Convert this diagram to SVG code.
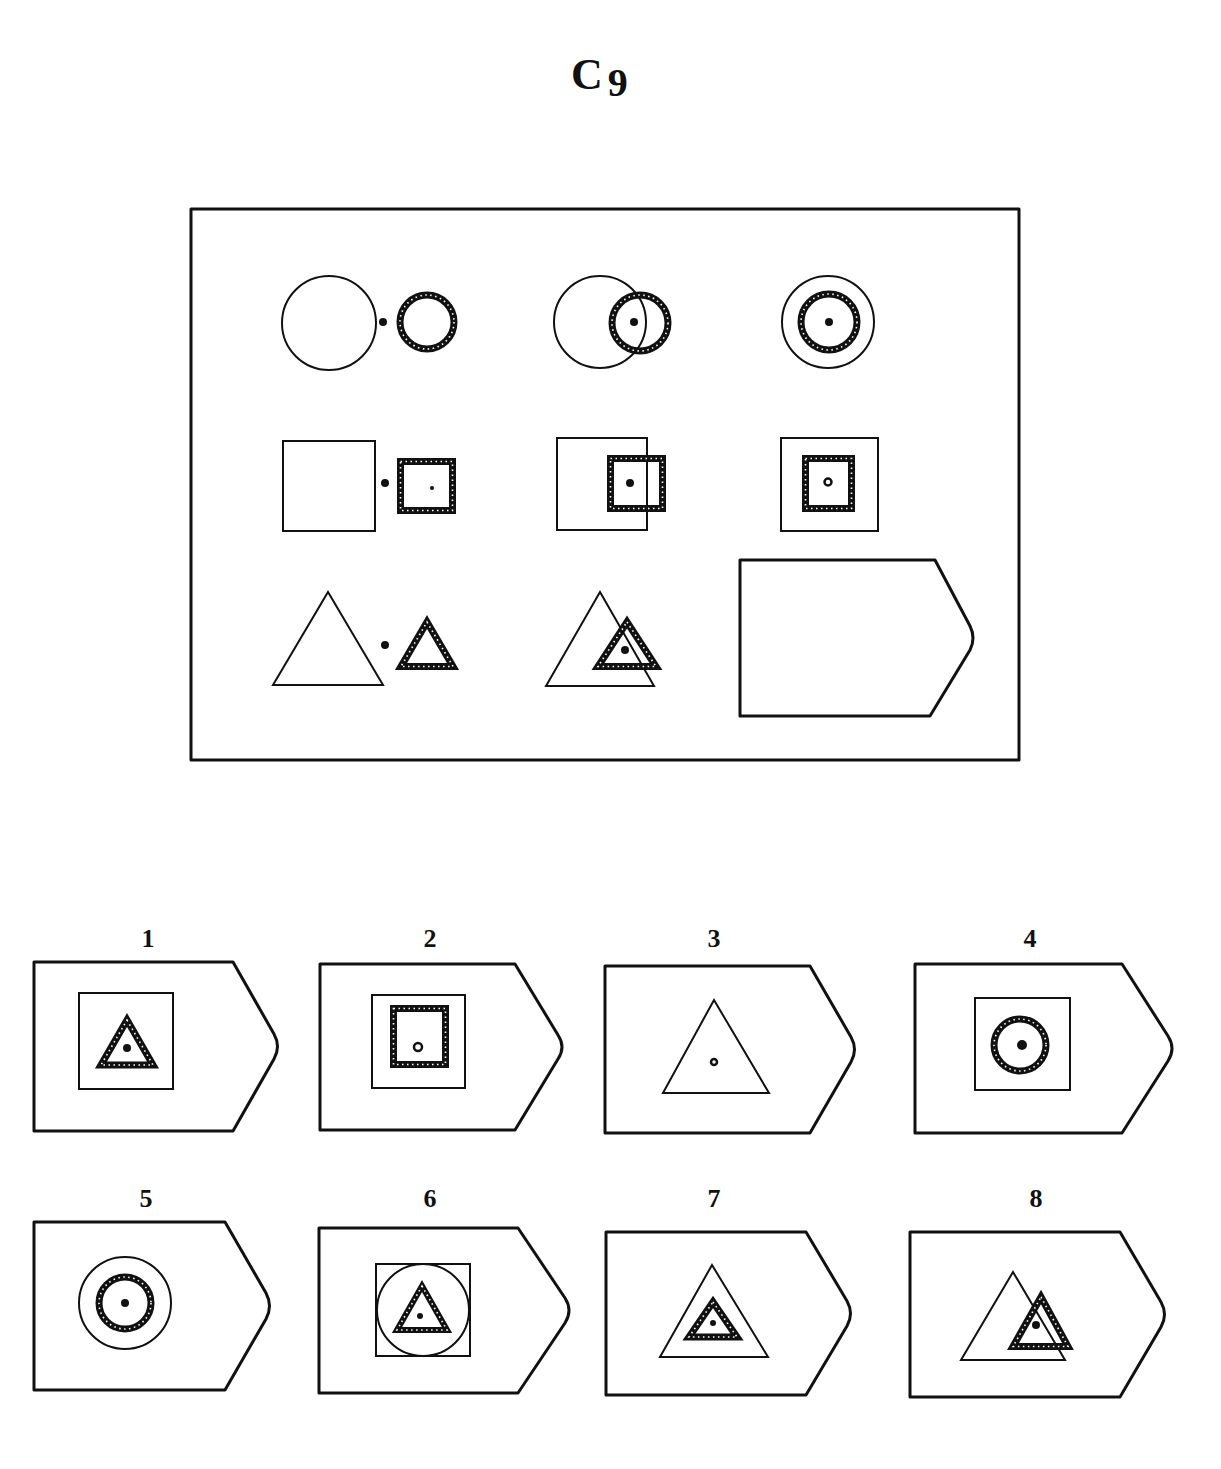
<svg xmlns="http://www.w3.org/2000/svg" width="1221" height="1469" viewBox="0 0 1221 1469">
<style>
.frame{fill:none;stroke:#111;stroke-width:3;stroke-linejoin:round}
.thin{fill:none;stroke:#111;stroke-width:2;stroke-linejoin:miter}
.thick{fill:none;stroke:#111;stroke-width:7;stroke-linejoin:miter}
.speck{fill:none;stroke:#fff;stroke-width:1.6;stroke-dasharray:1.5 3.5;stroke-linejoin:miter}
.dot{fill:#111}
.hdot{fill:none;stroke:#111;stroke-width:2.5}
.lbl{font-family:"Liberation Serif",serif;font-size:26px;font-weight:bold;fill:#111;text-anchor:middle}
.title{font-family:"Liberation Serif",serif;font-size:44px;font-weight:bold;fill:#111}
</style>
<rect width="1221" height="1469" fill="#fff"/>
<text class="title" x="571" y="89">C<tspan font-size="40" dx="5" dy="7">9</tspan></text>

<g id="matrix">
<rect class="frame" x="191" y="209" width="828" height="551"/>
<g id="cell-1-1">
<circle class="thin" cx="329" cy="323" r="47"/>
<circle class="dot" cx="383" cy="322" r="4"/>
<circle class="thick" cx="427" cy="322" r="27"/>
<circle class="speck" cx="427" cy="322" r="27"/>
</g>
<g id="cell-1-2">
<circle class="thin" cx="600" cy="322" r="46"/>
<circle class="thick" cx="640" cy="323" r="28"/>
<circle class="speck" cx="640" cy="323" r="28"/>
<circle class="dot" cx="634" cy="322" r="4"/>
</g>
<g id="cell-1-3">
<circle class="thin" cx="828" cy="322" r="46"/>
<circle class="thick" cx="829" cy="322" r="28"/>
<circle class="speck" cx="829" cy="322" r="28"/>
<circle class="dot" cx="829" cy="322" r="4"/>
</g>
<g id="cell-2-1">
<rect class="thin" x="283" y="441" width="92" height="90"/>
<circle class="dot" cx="385" cy="483" r="4"/>
<rect class="thick" x="400.5" y="461.5" width="52" height="49"/>
<rect class="speck" x="400.5" y="461.5" width="52" height="49"/>
<circle class="dot" cx="432" cy="488" r="2"/>
</g>
<g id="cell-2-2">
<rect class="thin" x="557" y="438" width="90" height="92"/>
<rect class="thick" x="610.5" y="458.5" width="52" height="50"/>
<rect class="speck" x="610.5" y="458.5" width="52" height="50"/>
<circle class="dot" cx="630" cy="483" r="4"/>
</g>
<g id="cell-2-3">
<rect class="thin" x="781" y="438" width="97" height="93"/>
<rect class="thick" x="805.5" y="458.5" width="46" height="50"/>
<rect class="speck" x="805.5" y="458.5" width="46" height="50"/>
<circle class="hdot" cx="828" cy="482" r="3.5"/>
</g>
<g id="cell-3-1">
<polygon class="thin" points="328,592 383,685 273,685"/>
<circle class="dot" cx="385" cy="645" r="4"/>
<polygon class="thick" points="427,622 453,666.5 401,666.5"/>
<polygon class="speck" points="427,622 453,666.5 401,666.5"/>
</g>
<g id="cell-3-2">
<polygon class="thin" points="600,592 654,686 546,686"/>
<polygon class="thick" points="627,622 656,666.5 598,666.5"/>
<polygon class="speck" points="627,622 656,666.5 598,666.5"/>
<circle class="dot" cx="625" cy="650" r="4"/>
</g>
<g id="cell-3-3">
<path class="frame" d="M740,560 H935 L970,626 Q976,638 970,650 L930,716 H740 Z"/>
</g>
</g>

<g id="connectors"></g>

<g id="option-1">
<text class="lbl" x="148" y="947">1</text>
<path class="frame" d="M34,962 H233 L274,1034 Q281,1046.5 274,1059 L233,1131 H34 Z"/>
<rect class="thin" x="79" y="993" width="94" height="96"/>
<polygon class="thick" points="127,1020 153,1065 101,1065"/>
<polygon class="speck" points="127,1020 153,1065 101,1065"/>
<circle class="dot" cx="127" cy="1048" r="4"/>
</g>
<g id="option-2">
<text class="lbl" x="430" y="947">2</text>
<path class="frame" d="M320,964 H515 L558,1035 Q566,1047 558,1059 L515,1130 H320 Z"/>
<rect class="thin" x="372" y="995" width="93" height="93"/>
<rect class="thick" x="393.5" y="1008.5" width="52" height="56"/>
<rect class="speck" x="393.5" y="1008.5" width="52" height="56"/>
<circle class="hdot" cx="418" cy="1047" r="4"/>
</g>
<g id="option-3">
<text class="lbl" x="714" y="947">3</text>
<path class="frame" d="M605,966 H810 L851,1037 Q858,1049.5 851,1062 L810,1133 H605 Z"/>
<polygon class="thin" points="714,1000 769,1093 663,1093"/>
<circle class="hdot" cx="714" cy="1062" r="3"/>
</g>
<g id="option-4">
<text class="lbl" x="1030" y="947">4</text>
<path class="frame" d="M915,964 H1122 L1168,1036 Q1176,1048.5 1168,1061 L1122,1133 H915 Z"/>
<rect class="thin" x="975" y="998" width="95" height="92"/>
<circle class="thick" cx="1020" cy="1045" r="26"/>
<circle class="speck" cx="1020" cy="1045" r="26"/>
<circle class="dot" cx="1022" cy="1045" r="5"/>
</g>
<g id="option-5">
<text class="lbl" x="146" y="1207">5</text>
<path class="frame" d="M34,1222 H225 L266,1293 Q273,1306 266,1319 L225,1390 H34 Z"/>
<circle class="thin" cx="125" cy="1303" r="46"/>
<circle class="thick" cx="125" cy="1303" r="26"/>
<circle class="speck" cx="125" cy="1303" r="26"/>
<circle class="dot" cx="125" cy="1303" r="4"/>
</g>
<g id="option-6">
<text class="lbl" x="430" y="1207">6</text>
<path class="frame" d="M319,1228 H518 L565,1298 Q573,1310.5 565,1323 L518,1393 H319 Z"/>
<rect class="thin" x="376" y="1264" width="94" height="92"/>
<circle class="thin" cx="423" cy="1310" r="46"/>
<polygon class="thick" points="422,1286 447,1330 397,1330" style="stroke-width:6"/>
<polygon class="speck" points="422,1286 447,1330 397,1330"/>
<circle class="dot" cx="420" cy="1316" r="3"/>
</g>
<g id="option-7">
<text class="lbl" x="714" y="1207">7</text>
<path class="frame" d="M606,1232 H806 L847,1301 Q854,1313.5 847,1326 L806,1395 H606 Z"/>
<polygon class="thin" points="712,1265 768,1357 660,1357"/>
<polygon class="thick" points="713,1302 737,1337 689,1337"/>
<polygon class="speck" points="713,1302 737,1337 689,1337"/>
<circle class="dot" cx="713" cy="1323" r="3"/>
</g>
<g id="option-8">
<text class="lbl" x="1036" y="1207">8</text>
<path class="frame" d="M910,1232 H1120 L1161,1302 Q1168,1314.5 1161,1327 L1120,1397 H910 Z"/>
<polygon class="thin" points="1013,1272 1065,1360 961,1360"/>
<polygon class="thick" points="1041,1297 1068,1346.5 1013,1346.5"/>
<polygon class="speck" points="1041,1297 1068,1346.5 1013,1346.5"/>
<circle class="dot" cx="1036" cy="1325" r="4"/>
</g>
</svg>
